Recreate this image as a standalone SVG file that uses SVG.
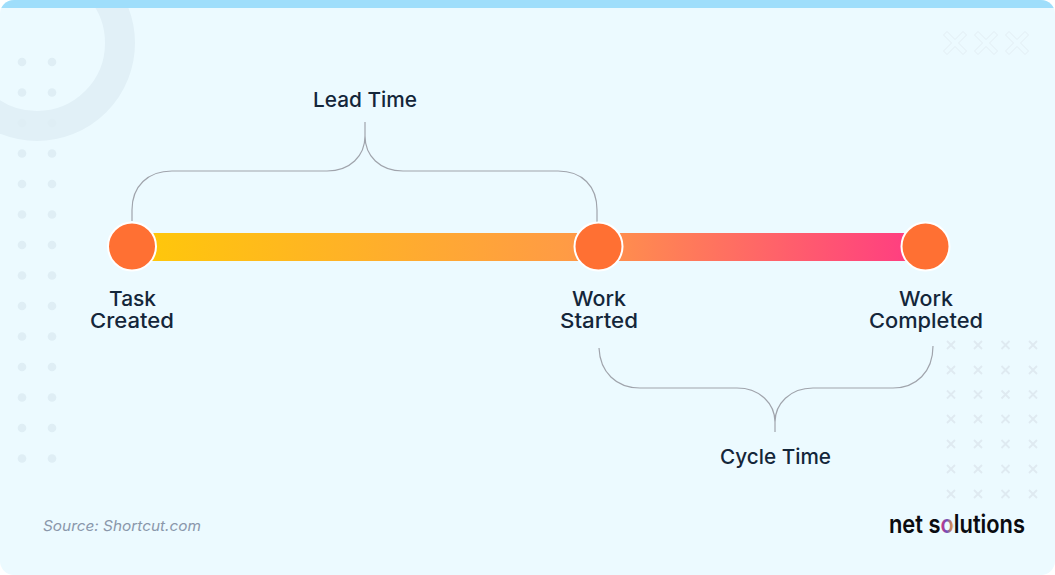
<svg xmlns="http://www.w3.org/2000/svg" width="1055" height="575" viewBox="0 0 1055 575">
<style>
.lbl{font-family:"Inter","Liberation Sans",sans-serif;font-size:20.500px;font-weight:500;fill:#14263a;text-anchor:middle}
.dot{fill:#dfeef5}
.x{stroke:#dfeaf1;stroke-width:1.8;fill:none}
.ox{fill:none;stroke:#e3eef4;stroke-width:1}
.brace{fill:none;stroke:#a0a4ac;stroke-width:1.2}
.pt{fill:#ff7033;stroke:#fff;stroke-width:2}
</style>
<defs>
<linearGradient id="barg" x1="155" x2="905" y1="0" y2="0" gradientUnits="userSpaceOnUse">
<stop offset="0" stop-color="#ffc60c"/><stop offset=".55" stop-color="#ff9b45"/><stop offset="1" stop-color="#ff3f80"/>
</linearGradient>
<linearGradient id="og" x1="889" x2="1025" y1="0" y2="0" gradientUnits="userSpaceOnUse">
<stop offset=".378" stop-color="#0b0b10"/><stop offset=".378" stop-color="#e0307a"/><stop offset=".425" stop-color="#6a4fc0"/><stop offset=".472" stop-color="#f0a030"/><stop offset=".472" stop-color="#0b0b10"/>
</linearGradient>
<clipPath id="card"><rect width="1055" height="575" rx="14"/></clipPath>
<path id="ox" d="M-8-11.500-0-3.500 8-11.500 11.500-8 3.500 0 11.500 8 8 11.500 0 3.500-8 11.500-11.500 8-3.500 0-11.500-8Z" class="ox"/>
<path id="sx" d="M-4-4 4 4M4-4-4 4" class="x"/>
<circle id="d" r="4.300" class="dot"/>
</defs>
<rect width="1055" height="575" fill="#fff"/>
<g id="background" clip-path="url(#card)">
<rect width="1055" height="575" fill="#ecfaff"/>
<circle cx="37" cy="43" r="83" fill="none" stroke="#e1f0f7" stroke-width="30"/>
<rect width="1055" height="8" fill="#9fdefb"/>
</g>
<g id="dots">
<use href="#d" x="22" y="62"/><use href="#d" x="52" y="62"/>
<use href="#d" x="22" y="92.500"/><use href="#d" x="52" y="92.500"/>
<use href="#d" x="22" y="123"/><use href="#d" x="52" y="123"/>
<use href="#d" x="22" y="153.500"/><use href="#d" x="52" y="153.500"/>
<use href="#d" x="22" y="184"/><use href="#d" x="52" y="184"/>
<use href="#d" x="22" y="214.500"/><use href="#d" x="52" y="214.500"/>
<use href="#d" x="22" y="245"/><use href="#d" x="52" y="245"/>
<use href="#d" x="22" y="275.500"/><use href="#d" x="52" y="275.500"/>
<use href="#d" x="22" y="306"/><use href="#d" x="52" y="306"/>
<use href="#d" x="22" y="336.500"/><use href="#d" x="52" y="336.500"/>
<use href="#d" x="22" y="367"/><use href="#d" x="52" y="367"/>
<use href="#d" x="22" y="397.500"/><use href="#d" x="52" y="397.500"/>
<use href="#d" x="22" y="428"/><use href="#d" x="52" y="428"/>
<use href="#d" x="22" y="458.500"/><use href="#d" x="52" y="458.500"/>
</g>
<g id="outline-crosses">
<use href="#ox" x="955" y="43"/><use href="#ox" x="986" y="43"/><use href="#ox" x="1017" y="43"/>
</g>
<g id="crosses">
<use href="#sx" x="951" y="345"/><use href="#sx" x="978" y="345"/><use href="#sx" x="1005.500" y="345"/><use href="#sx" x="1033" y="345"/>
<use href="#sx" x="951" y="370"/><use href="#sx" x="978" y="370"/><use href="#sx" x="1005.500" y="370"/><use href="#sx" x="1033" y="370"/>
<use href="#sx" x="951" y="394.500"/><use href="#sx" x="978" y="394.500"/><use href="#sx" x="1005.500" y="394.500"/><use href="#sx" x="1033" y="394.500"/>
<use href="#sx" x="951" y="419"/><use href="#sx" x="978" y="419"/><use href="#sx" x="1005.500" y="419"/><use href="#sx" x="1033" y="419"/>
<use href="#sx" x="951" y="444"/><use href="#sx" x="978" y="444"/><use href="#sx" x="1005.500" y="444"/><use href="#sx" x="1033" y="444"/>
<use href="#sx" x="951" y="469"/><use href="#sx" x="978" y="469"/><use href="#sx" x="1005.500" y="469"/><use href="#sx" x="1033" y="469"/>
<use href="#sx" x="951" y="494"/><use href="#sx" x="978" y="494"/><use href="#sx" x="1005.500" y="494"/><use href="#sx" x="1033" y="494"/>
</g>
<g id="connectors">
<path class="brace" d="M132 221V210C132 186 148 171 172 171H327C350 171 365 156 365 136V122V136C365 156 380 171 403 171H558C582 171 597 186 597 210V222"/>
<path class="brace" d="M599 348C600 372 616 388 640 388H737C760 388 775 404 775 422V432V422C775 404 790 388 813 388H893C916 388 933 372 933 346"/>
</g>
<g id="bar"><rect x="150" y="233" width="760" height="28" fill="url(#barg)"/></g>
<g id="node-task-created"><circle class="pt" cx="132" cy="246.500" r="24"/>
<text class="lbl" x="132.500" y="306" textLength="47" lengthAdjust="spacingAndGlyphs">Task</text><text class="lbl" x="132" y="328" textLength="84" lengthAdjust="spacingAndGlyphs">Created</text></g>
<g id="node-work-started"><circle class="pt" cx="598.500" cy="246.500" r="24"/>
<text class="lbl" x="599" y="306" textLength="54" lengthAdjust="spacingAndGlyphs">Work</text><text class="lbl" x="599" y="328" textLength="78" lengthAdjust="spacingAndGlyphs">Started</text></g>
<g id="node-work-completed"><circle class="pt" cx="925.500" cy="246.500" r="24"/>
<text class="lbl" x="926" y="306" textLength="54" lengthAdjust="spacingAndGlyphs">Work</text><text class="lbl" x="926" y="328" textLength="114" lengthAdjust="spacingAndGlyphs">Completed</text></g>
<g id="label-lead-time"><text class="lbl" x="365" y="107" textLength="104" lengthAdjust="spacingAndGlyphs">Lead Time</text></g>
<g id="label-cycle-time"><text class="lbl" x="775.500" y="464" textLength="111" lengthAdjust="spacingAndGlyphs">Cycle Time</text></g>
<g id="source"><text x="43" y="531" font-family="Inter,'Liberation Sans',sans-serif" font-size="14.500" font-style="italic" fill="#8a97ab" textLength="158" lengthAdjust="spacingAndGlyphs">Source: Shortcut.com</text></g>
<g id="logo"><text x="889" y="533" font-family="Inter,'Liberation Sans',sans-serif" font-size="25" font-weight="600" fill="url(#og)" textLength="136" lengthAdjust="spacingAndGlyphs">net solutions</text></g>
</svg>
